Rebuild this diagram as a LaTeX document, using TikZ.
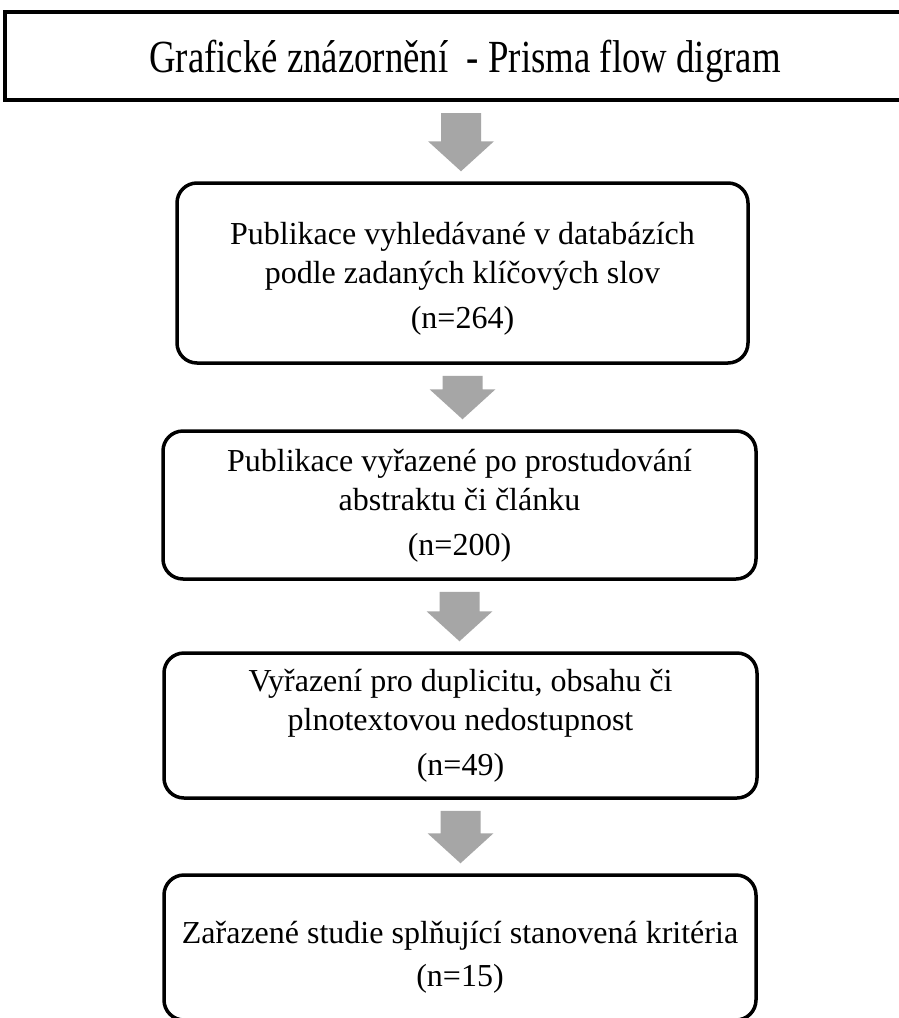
\documentclass[tikz,border=0pt]{standalone}
\usepackage{fontspec}
\setmainfont{Liberation Serif}
\newfontfamily\titlefont[FakeStretch=0.80]{Liberation Serif}
\usetikzlibrary{calc}

\definecolor{arrowgray}{HTML}{A6A6A6}

\tikzset{
  titlebox/.style={draw=black, line width=4pt, fill=white, inner sep=0pt},
  titletext/.style={inner sep=0pt, font=\titlefont\fontsize{46}{52}\selectfont},
  stagebox/.style={draw=black, line width=3.5pt, rounded corners=20pt, fill=white,
    inner sep=0pt},
  stagetext/.style={align=center, inner sep=0pt, font=\fontsize{32}{39}\selectfont},
  blockarrow/.style={fill=arrowgray, draw=none}
}

% grey block arrow in the gap between two stacked boxes
\newcommand\flowarrow[2]{%
  \path[blockarrow] let \p1=(#1.south), \p2=(#2.north) in
    (\x1-20pt,\y1-11pt) -- (\x1+20pt,\y1-11pt) -- (\x1+20pt,\y2+40pt)
    -- (\x1+33pt,\y2+40pt) -- (\x1,\y2+10pt) -- (\x1-33pt,\y2+40pt)
    -- (\x1-20pt,\y2+40pt) -- cycle;}

\begin{document}
\begin{tikzpicture}[x=1pt, y=-1pt]
  \path[use as bounding box] (0,0) rectangle (899,1018);
  \clip (0,0) rectangle (899,1018);
  \fill[white] (0,0) rectangle (899,1018);

  % heading bar (runs off the right edge)
  \node[titlebox, minimum width=912pt, minimum height=88pt] (title) at (461,56) {};
  \node[titletext] (titlelabel) at ($(title.center)+(4,5)$)
    {Grafické znázornění\ \ - Prisma flow digram};

  % stages of the selection
  \node[stagebox, minimum width=571pt, minimum height=180pt] (s1) at (462.5,273) {};
  \node[stagetext] (t1) at ($(s1.center)+(0,6)$)
    {Publikace vyhledávané v databázích\\podle zadaných klíčových slov\\[6pt](n=264)};

  \node[stagebox, minimum width=593pt, minimum height=148pt] (s2) at (459.5,505) {};
  \node[stagetext] (t2) at ($(s2.center)+(0,1)$)
    {Publikace vyřazené po prostudování\\abstraktu či článku\\[6pt](n=200)};

  \node[stagebox, minimum width=593pt, minimum height=145pt] (s3) at (460.5,725.5) {};
  \node[stagetext] (t3) at ($(s3.center)+(0,0)$)
    {Vyřazení pro duplicitu, obsahu či\\plnotextovou nedostupnost\\[6pt](n=49)};

  \node[stagebox, minimum width=592pt, minimum height=145pt] (s4) at (460,947.5) {};
  \node[stagetext] (t4) at ($(s4.center)+(0,10)$)
    {Zařazené studie splňující stanovená kritéria\\[4pt](n=15)};

  \flowarrow{title}{s1}
  \flowarrow{s1}{s2}
  \flowarrow{s2}{s3}
  \flowarrow{s3}{s4}
\end{tikzpicture}
\end{document}
